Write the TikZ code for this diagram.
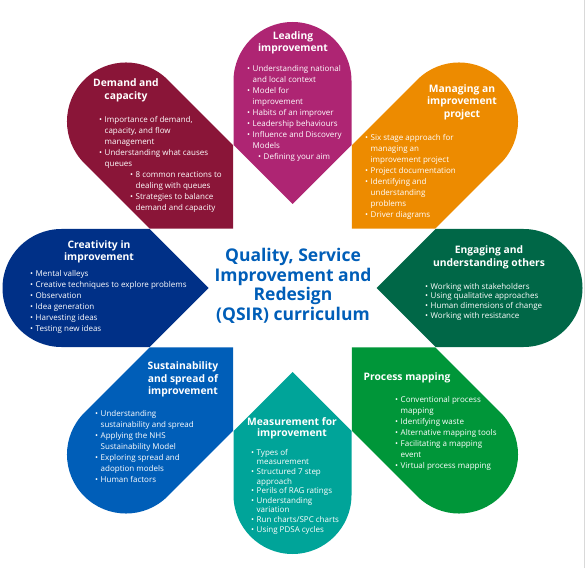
\documentclass[tikz,border=0pt]{standalone}
\usepackage{fontspec}
\setmainfont{Open Sans}

\definecolor{leadcol}{HTML}{AE2573}
\definecolor{mancol}{HTML}{ED8B00}
\definecolor{engcol}{HTML}{006747}
\definecolor{proccol}{HTML}{009639}
\definecolor{meascol}{HTML}{00A499}
\definecolor{suscol}{HTML}{005EB8}
\definecolor{crecol}{HTML}{003087}
\definecolor{demcol}{HTML}{8A1538}

% one petal: angle, distance of the round end's centre, colour
\newcommand{\petal}[3]{\fill[#3, shift={(292.5,280)}, rotate=#1]
  (84,0) -- (143,-59) -- (#2,-59) arc[start angle=-90, end angle=90, radius=59]
  -- (143,59) -- cycle;}
\newcommand{\bul}{\makebox[5.5pt][l]{\textbullet}}
\newcommand{\cnt}{\hspace*{5.5pt}}

\begin{document}
\begin{tikzpicture}[x=1pt, y=1pt]
    \tikzset{title/.style = {text=white, align=center, inner sep=0pt,
                 font=\bfseries\fontsize{10.3}{12.5}\selectfont},
             items/.style = {text=white, align=left, inner sep=0pt, anchor=north west,
                 font=\fontsize{8}{11}\selectfont},
             tight/.style = {font=\fontsize{8}{9.6}\selectfont}}

    \useasboundingbox (0,0) rectangle (588,568);
    \draw[black!15] (584.5,0) -- (584.5,568);

    % the eight petals
    \petal{90}{207}{leadcol}
    \petal{45}{235.5}{mancol}
    \petal{0}{231}{engcol}
    \petal{-45}{235.5}{proccol}
    \petal{-90}{207}{meascol}
    \petal{-135}{235.5}{suscol}
    \petal{180}{231}{crecol}
    \petal{135}{235.5}{demcol}

    % titles
    \node[title] (lead-t) at (293,525) {Leading\\improvement};
    \node[title] (man-t) at (462,466) {Managing an\\improvement\\project};
    \node[title] (dem-t) at (126,477.5) {Demand and\\capacity};
    \node[title] (cre-t) at (99,316) {Creativity in\\improvement};
    \node[title] (eng-t) at (489,310.5) {Engaging and\\understanding others};
    \node[title] (sus-t) at (183,188.5) {Sustainability\\and spread of\\improvement};
    \node[title] (proc-t) at (407,190) {Process mapping};
    \node[title, font=\bfseries\fontsize{10.3}{11}\selectfont] (meas-t) at (292,139.5) {Measurement for\\improvement};

    % topic lists
    \node[items] (lead-l) at (247,503) {\bul Understanding national\\ \cnt and local context\\
        \bul Model for\\ \cnt improvement\\ \bul Habits of an improver\\ \bul Leadership behaviours\\
        \bul Influence and Discovery\\ \cnt Models\\ \hspace*{11pt}\bul Defining your aim};
    \node[items] (man-l) at (365,434) {\bul Six stage approach for\\ \cnt managing an\\
        \cnt improvement project\\ \bul Project documentation\\ \bul Identifying and\\
        \cnt understanding\\ \cnt problems\\ \bul Driver diagrams};
    \node[items] (dem-l) at (99,452) {\bul Importance of demand,\\ \cnt capacity, and flow\\
        \cnt management\\ \bul Understanding what causes\\ \cnt queues\\
        \hspace*{31pt}\bul 8 common reactions to\\ \hspace*{31pt}\cnt dealing with queues\\
        \hspace*{31pt}\bul Strategies to balance\\ \hspace*{31pt}\cnt demand and capacity};
    \node[items] (cre-l) at (30,298) {\bul Mental valleys\\ \bul Creative techniques to explore problems\\
        \bul Observation\\ \bul Idea generation\\ \bul Harvesting ideas\\ \bul Testing new ideas};
    \node[items, tight] (eng-l) at (425,285) {\bul Working with stakeholders\\
        \bul Using qualitative approaches\\ \bul Human dimensions of change\\ \bul Working with resistance};
    \node[items] (sus-l) at (95,158) {\bul Understanding\\ \cnt sustainability and spread\\
        \bul Applying the NHS\\ \cnt Sustainability Model\\ \bul Exploring spread and\\
        \cnt adoption models\\ \bul Human factors};
    \node[items] (proc-l) at (395,172) {\bul Conventional process\\ \cnt mapping\\
        \bul Identifying waste\\ \bul Alternative mapping tools\\ \bul Facilitating a mapping\\
        \cnt event\\ \bul Virtual process mapping};
    \node[items, tight] (meas-l) at (251,119) {\bul Types of\\ \cnt measurement\\
        \bul Structured 7 step\\ \cnt approach\\ \bul Perils of RAG ratings\\ \bul Understanding\\
        \cnt variation\\ \bul Run charts/SPC charts\\ \bul Using PDSA cycles};

    % centre
    \node[align=center, text=suscol, font=\bfseries\fontsize{17.5}{19.5}\selectfont] (qsir) at (293,282)
        {Quality, Service\\Improvement and\\Redesign\\(QSIR) curriculum};
\end{tikzpicture}
\end{document}
